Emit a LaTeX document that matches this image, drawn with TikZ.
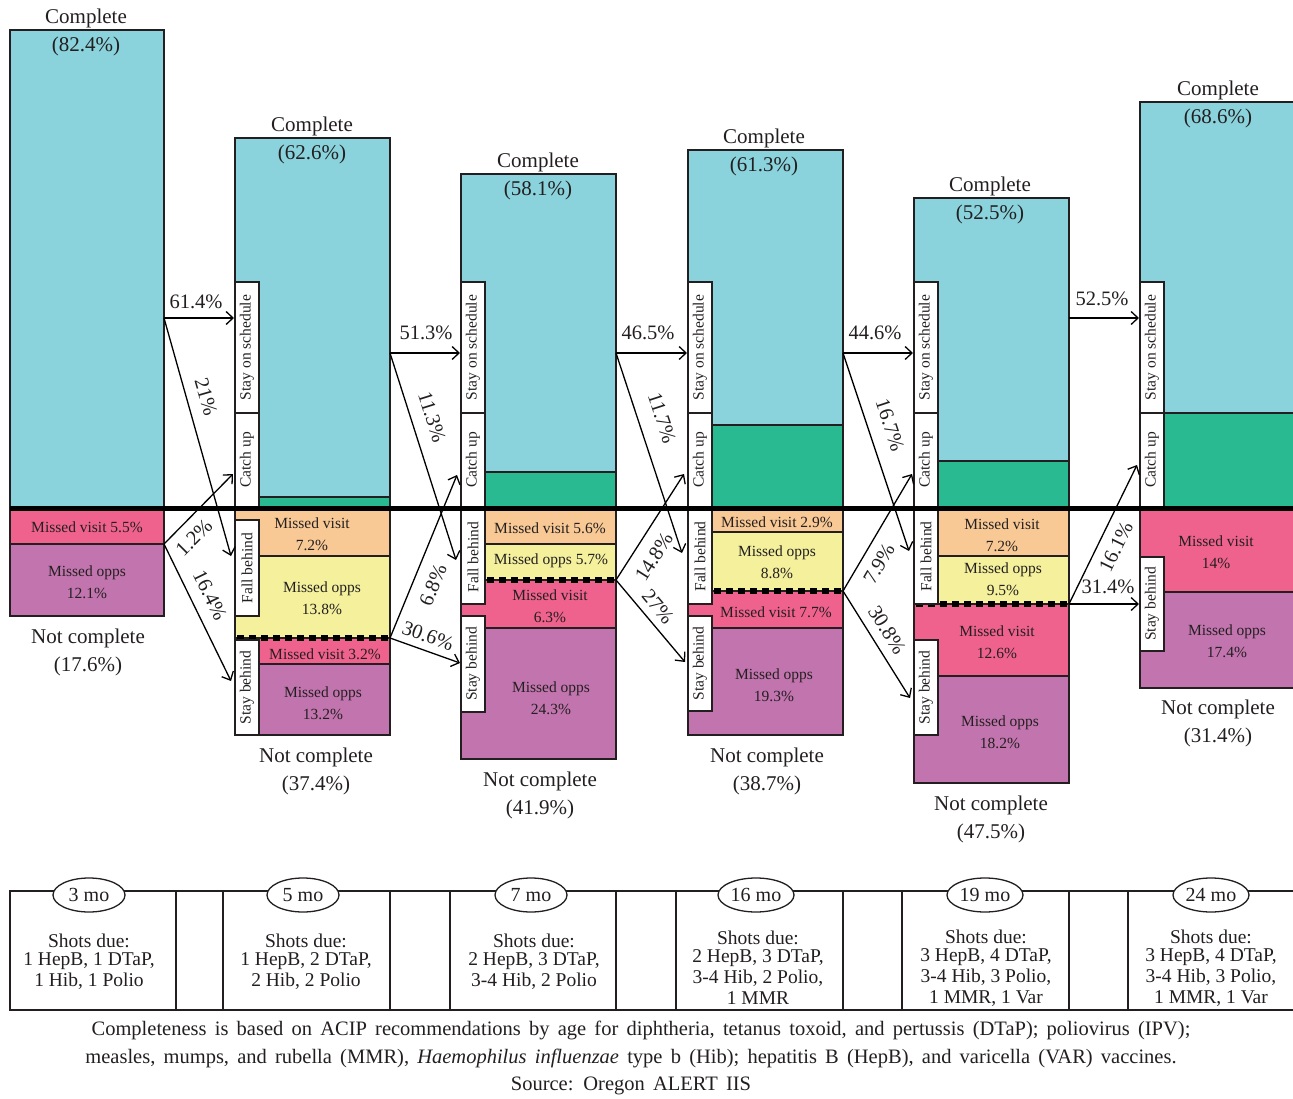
\documentclass[tikz,border=0pt]{standalone}
\usepackage{fontspec}
\setmainfont{Liberation Serif}
\newfontfamily\captfont[WordSpace=1.6]{Liberation Serif}
\usetikzlibrary{arrows.meta,shapes.geometric}
\definecolor{cyanc}{HTML}{8AD3DC}
\definecolor{greenc}{HTML}{2ABA91}
\definecolor{pinkc}{HTML}{F0628E}
\definecolor{purpc}{HTML}{C274AE}
\definecolor{orangec}{HTML}{F9C995}
\definecolor{yellowc}{HTML}{F4F09C}
\definecolor{linec}{HTML}{231F20}
\begin{document}
\begin{tikzpicture}[x=1pt,y=-1pt,
 seg/.style={draw=linec, line width=1.4pt, anchor=north west, inner sep=0pt, outer sep=0pt},
 labbx/.style={draw=linec, fill=white, line width=1.4pt, rotate=90, inner sep=0pt, outer sep=0pt, minimum height=24pt, font=\fontsize{15.5}{16}\selectfont, text=linec},
 small/.style={font=\fontsize{15.5}{22}\selectfont, text=linec, align=center, inner sep=0pt},
 big/.style={font=\fontsize{21}{28}\selectfont, text=linec, align=center, inner sep=0pt},
 pct/.style={font=\fontsize{20.5}{24}\selectfont, text=linec, inner sep=0pt},
 arr/.style={-{Straight Barb[length=7pt,width=13pt]}, line width=1.3pt, draw=black},
 dots/.style={line width=6pt, dash pattern=on 7pt off 5pt, draw=black},
 oval/.style={ellipse, draw=linec, fill=white, line width=1.3pt, minimum width=72pt, minimum height=34pt, inner sep=0pt, font=\fontsize{20}{22}\selectfont, text=linec},
 shots/.style={font=\fontsize{19.5}{21}\selectfont, text=linec, align=center, inner sep=0pt},
 capt/.style={font=\captfont\fontsize{20.5}{22}\selectfont, text=linec, inner sep=0pt},
]
\useasboundingbox (0,0) rectangle (1293,1099);

% ---------- Bar 1 ----------
\node[seg, fill=cyanc,  minimum width=154pt, minimum height=478pt] (b1c)  at (10,30) {};
\node[seg, fill=pinkc,  minimum width=154pt, minimum height=36pt]  (b1mv) at (10,508) {};
\node[seg, fill=purpc,  minimum width=154pt, minimum height=72pt]  (b1mo) at (10,544) {};
% ---------- Bar 2 ----------
\node[seg, fill=cyanc,   minimum width=155pt, minimum height=370pt] (b2c)  at (235,138) {};
\node[seg, fill=greenc,  minimum width=155pt, minimum height=11pt]  (b2g)  at (235,497) {};
\node[seg, fill=orangec, minimum width=155pt, minimum height=48pt]  (b2fv) at (235,508) {};
\node[seg, fill=yellowc, minimum width=155pt, minimum height=82pt]  (b2fo) at (235,556) {};
\node[seg, fill=pinkc,   minimum width=155pt, minimum height=26pt]  (b2sv) at (235,638) {};
\node[seg, fill=purpc,   minimum width=155pt, minimum height=71pt]  (b2so) at (235,664) {};
% ---------- Bar 3 ----------
\node[seg, fill=cyanc,   minimum width=155pt, minimum height=334pt] (b3c)  at (461,174) {};
\node[seg, fill=greenc,  minimum width=155pt, minimum height=36pt]  (b3g)  at (461,472) {};
\node[seg, fill=orangec, minimum width=155pt, minimum height=36pt]  (b3fv) at (461,508) {};
\node[seg, fill=yellowc, minimum width=155pt, minimum height=36pt]  (b3fo) at (461,544) {};
\node[seg, fill=pinkc,   minimum width=155pt, minimum height=48pt]  (b3sv) at (461,580) {};
\node[seg, fill=purpc,   minimum width=155pt, minimum height=131pt] (b3so) at (461,628) {};
% ---------- Bar 4 ----------
\node[seg, fill=cyanc,   minimum width=155pt, minimum height=358pt] (b4c)  at (688,150) {};
\node[seg, fill=greenc,  minimum width=155pt, minimum height=83pt]  (b4g)  at (688,425) {};
\node[seg, fill=orangec, minimum width=155pt, minimum height=24pt]  (b4fv) at (688,508) {};
\node[seg, fill=yellowc, minimum width=155pt, minimum height=59pt]  (b4fo) at (688,532) {};
\node[seg, fill=pinkc,   minimum width=155pt, minimum height=37pt]  (b4sv) at (688,591) {};
\node[seg, fill=purpc,   minimum width=155pt, minimum height=107pt] (b4so) at (688,628) {};
% ---------- Bar 5 ----------
\node[seg, fill=cyanc,   minimum width=155pt, minimum height=310pt] (b5c)  at (914,198) {};
\node[seg, fill=greenc,  minimum width=155pt, minimum height=47pt]  (b5g)  at (914,461) {};
\node[seg, fill=orangec, minimum width=155pt, minimum height=48pt]  (b5fv) at (914,508) {};
\node[seg, fill=yellowc, minimum width=155pt, minimum height=48pt]  (b5fo) at (914,556) {};
\node[seg, fill=pinkc,   minimum width=155pt, minimum height=72pt]  (b5sv) at (914,604) {};
\node[seg, fill=purpc,   minimum width=155pt, minimum height=107pt] (b5so) at (914,676) {};
% ---------- Bar 6 ----------
\node[seg, fill=cyanc,   minimum width=156pt, minimum height=406pt] (b6c)  at (1140,102) {};
\node[seg, fill=greenc,  minimum width=156pt, minimum height=95pt]  (b6g)  at (1140,413) {};
\node[seg, fill=pinkc,   minimum width=156pt, minimum height=84pt]  (b6sv) at (1140,508) {};
\node[seg, fill=purpc,   minimum width=156pt, minimum height=96pt]  (b6so) at (1140,592) {};

% ---------- dotted separators ----------
\draw[dots] ([xshift=2pt]b2fo.south west) -- ([xshift=-2pt]b2fo.south east);
\draw[dots] ([xshift=2pt]b3fo.south west) -- ([xshift=-2pt]b3fo.south east);
\draw[dots] ([xshift=2pt]b4fo.south west) -- ([xshift=-2pt]b4fo.south east);
\draw[dots] ([xshift=2pt]b5fo.south west) -- ([xshift=-2pt]b5fo.south east);

% ---------- label boxes ----------
\foreach \n/\x in {2/247,3/473,4/700,5/926,6/1152}{
  \node[labbx, minimum width=131pt] (sos\n) at (\x,347.5) {Stay on schedule};
  \node[labbx, minimum width=94pt]  (cu\n)  at (\x,460) {Catch up};
}
\node[labbx, minimum width=96pt] (fb2) at (247,568) {Fall behind};
\node[labbx, minimum width=95pt] (sb2) at (247,687.5) {Stay behind};
\node[labbx, minimum width=94pt] (fb3) at (473,557) {Fall behind};
\node[labbx, minimum width=96pt] (sb3) at (473,664) {Stay behind};
\node[labbx, minimum width=95pt] (fb4) at (700,556.5) {Fall behind};
\node[labbx, minimum width=95pt] (sb4) at (700,663.5) {Stay behind};
\node[labbx, minimum width=95pt] (fb5) at (926,556.5) {Fall behind};
\node[labbx, minimum width=95pt] (sb5) at (926,687.5) {Stay behind};
\node[labbx, minimum width=94pt] (sb6) at (1152,604) {Stay behind};

% ---------- thick divider ----------
\draw[line width=5pt, black] (10,508) -- (1293,508);

% ---------- segment texts ----------
\node[small] (t1a) at (87,527) {Missed visit 5.5\%};
\node[small] (t1b) at (87,582) {Missed opps\\12.1\%};
\node[small] (t2a) at (312,534.5) {Missed visit\\7.2\%};
\node[small] (t2b) at (322,598) {Missed opps\\13.8\%};
\node[small] (t2c) at (325,654) {Missed visit 3.2\%};
\node[small] (t2d) at (323,703) {Missed opps\\13.2\%};
\node[small] (t3a) at (550,528) {Missed visit 5.6\%};
\node[small] (t3b) at (551,561) {Missed opps 5.7\%};
\node[small] (t3c) at (550,606.5) {Missed visit\\6.3\%};
\node[small] (t3d) at (551,698) {Missed opps\\24.3\%};
\node[small] (t4a) at (777,522) {Missed visit 2.9\%};
\node[small] (t4b) at (777,562.5) {Missed opps\\8.8\%};
\node[small] (t4c) at (776,612) {Missed visit 7.7\%};
\node[small] (t4d) at (774,685) {Missed opps\\19.3\%};
\node[small] (t5a) at (1002,535) {Missed visit\\7.2\%};
\node[small] (t5b) at (1003,579) {Missed opps\\9.5\%};
\node[small] (t5c) at (997,642.5) {Missed visit\\12.6\%};
\node[small] (t5d) at (1000,732.5) {Missed opps\\18.2\%};
\node[small] (t6a) at (1216,552.5) {Missed visit\\14\%};
\node[small] (t6b) at (1227,641) {Missed opps\\17.4\%};

% ---------- Complete / Not complete ----------
\node[big] (c1) at (86,32) {Complete\\(82.4\%)};
\node[big] (c2) at (312,140) {Complete\\(62.6\%)};
\node[big] (c3) at (538,176) {Complete\\(58.1\%)};
\node[big] (c4) at (764,152) {Complete\\(61.3\%)};
\node[big] (c5) at (990,200) {Complete\\(52.5\%)};
\node[big] (c6) at (1218,104) {Complete\\(68.6\%)};
\node[big] (n1) at (88,652) {Not complete\\(17.6\%)};
\node[big] (n2) at (316,771.5) {Not complete\\(37.4\%)};
\node[big] (n3) at (540,795.5) {Not complete\\(41.9\%)};
\node[big] (n4) at (767,771.5) {Not complete\\(38.7\%)};
\node[big] (n5) at (991,819.5) {Not complete\\(47.5\%)};
\node[big] (n6) at (1218,723.5) {Not complete\\(31.4\%)};

% ---------- arrows ----------
\coordinate (o1a) at (164,318);  \coordinate (o1b) at (164,544);
\coordinate (o2a) at (390,353);  \coordinate (o2b) at (390,638);
\coordinate (o3a) at (616,353);  \coordinate (o3b) at (616,580);
\coordinate (o4a) at (843,353);  \coordinate (o4b) at (843,591);
\coordinate (o5a) at (1069,318); \coordinate (o5b) at (1069,604);
\coordinate (e1a) at (234,318);  \coordinate (e1b) at (231,556);
\coordinate (e1c) at (233,474);  \coordinate (e1d) at (231,681);
\coordinate (e2a) at (460,353);  \coordinate (e2b) at (456,560);
\coordinate (e2c) at (457,475);  \coordinate (e2d) at (460,663);
\coordinate (e3a) at (687,353);  \coordinate (e3b) at (682,553);
\coordinate (e3c) at (684,474);  \coordinate (e3d) at (685,662);
\coordinate (e4a) at (913,353);  \coordinate (e4b) at (909,551);
\coordinate (e4c) at (912,474);  \coordinate (e4d) at (910,698);
\coordinate (e5a) at (1139,318); \coordinate (e5b) at (1137,465);
\coordinate (e5c) at (1139,604);

\draw[arr] (o1a) -- (e1a);  \draw[arr] (o1a) -- (e1b);
\draw[arr] (o1b) -- (e1c);  \draw[arr] (o1b) -- (e1d);
\draw[arr] (o2a) -- (e2a);  \draw[arr] (o2a) -- (e2b);
\draw[arr] (o2b) -- (e2c);  \draw[arr] (o2b) -- (e2d);
\draw[arr] (o3a) -- (e3a);  \draw[arr] (o3a) -- (e3b);
\draw[arr] (o3b) -- (e3c);  \draw[arr] (o3b) -- (e3d);
\draw[arr] (o4a) -- (e4a);  \draw[arr] (o4a) -- (e4b);
\draw[arr] (o4b) -- (e4c);  \draw[arr] (o4b) -- (e4d);
\draw[arr] (o5a) -- (e5a);
\draw[arr] (o5b) -- (e5b);  \draw[arr] (o5b) -- (e5c);

% ---------- arrow labels ----------
\node[pct] (p1) at (196,302) {61.4\%};
\node[pct, rotate=-74] (p2) at (206,397) {21\%};
\node[pct, rotate=45] (p3) at (194,538) {1.2\%};
\node[pct, rotate=-64] (p4) at (210,595) {16.4\%};
\node[pct] (p5) at (426,333) {51.3\%};
\node[pct, rotate=-72.6] (p6) at (432,417) {11.3\%};
\node[pct, rotate=68] (p7) at (433,585) {6.8\%};
\node[pct, rotate=-19.7] (p8) at (428,636) {30.6\%};
\node[pct] (p9) at (648,333) {46.5\%};
\node[pct, rotate=-72] (p10) at (662,418) {11.7\%};
\node[pct, rotate=57.7] (p11) at (654,557) {14.8\%};
\node[pct, rotate=-50] (p12) at (658,607) {27\%};
\node[pct] (p13) at (875,333) {44.6\%};
\node[pct, rotate=-71.7] (p14) at (890,425) {16.7\%};
\node[pct, rotate=59.8] (p15) at (879,564) {7.9\%};
\node[pct, rotate=-58] (p16) at (887,630) {30.8\%};
\node[pct] (p17) at (1102,299) {52.5\%};
\node[pct, rotate=63.9] (p18) at (1116,547) {16.1\%};
\node[pct] (p19) at (1108,587) {31.4\%};

% ---------- timeline ----------
\draw[line width=1.3pt, linec] (10,891) -- (1293,891);
\draw[line width=1.3pt, linec] (10,1010) -- (1293,1010);
\node[seg, minimum width=166pt, minimum height=119pt] (k1) at (10,891) {};
\node[seg, minimum width=167pt, minimum height=119pt] (k2) at (223,891) {};
\node[seg, minimum width=166pt, minimum height=119pt] (k3) at (450,891) {};
\node[seg, minimum width=167pt, minimum height=119pt] (k4) at (676,891) {};
\node[seg, minimum width=167pt, minimum height=119pt] (k5) at (902,891) {};
\node[seg, minimum width=167pt, minimum height=119pt] (k6) at (1128,891) {};
\node[oval] (m1) at (89,895) {3 mo};
\node[oval] (m2) at (303,895) {5 mo};
\node[oval] (m3) at (531,895) {7 mo};
\node[oval, minimum width=76pt] (m4) at (756,895) {16 mo};
\node[oval, minimum width=76pt] (m5) at (985,895) {19 mo};
\node[oval, minimum width=76pt] (m6) at (1211,895) {24 mo};
\node[shots] (s1) at (89,962) {Shots due:\\[-3pt]1 HepB, 1 DTaP,\\1 Hib, 1 Polio};
\node[shots] (s2) at (306,962) {Shots due:\\[-3pt]1 HepB, 2 DTaP,\\2 Hib, 2 Polio};
\node[shots] (s3) at (534,962) {Shots due:\\[-3pt]2 HepB, 3 DTaP,\\3-4 Hib, 2 Polio};
\node[shots] (s4) at (758,968) {Shots due:\\[-3pt]2 HepB, 3 DTaP,\\3-4 Hib, 2 Polio,\\1 MMR};
\node[shots] (s5) at (986,968) {Shots due:\\[-3pt]3 HepB, 4 DTaP,\\3-4 Hib, 3 Polio,\\1 MMR, 1 Var};
\node[shots] (s6) at (1211,968) {Shots due:\\[-3pt]3 HepB, 4 DTaP,\\3-4 Hib, 3 Polio,\\1 MMR, 1 Var};

% ---------- caption ----------
\node[capt] (cap1) at (641,1030) {Completeness is based on ACIP recommendations by age for diphtheria, tetanus toxoid, and pertussis (DTaP); poliovirus (IPV);};
\node[capt] (cap2) at (631,1058) {measles, mumps, and rubella (MMR), \textit{Haemophilus influenzae} type b (Hib); hepatitis B (HepB), and varicella (VAR) vaccines.};
\node[capt] (cap3) at (631,1086) {Source: Oregon ALERT IIS};
\end{tikzpicture}
\end{document}
